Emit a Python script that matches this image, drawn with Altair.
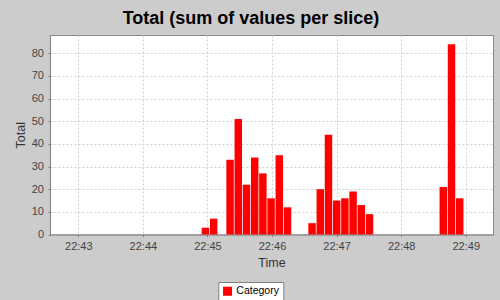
import altair as alt
import pandas as pd

# ---- data ----
first_slice = "22:44:54.7"      # start time of slice 0
slice_seconds = 7.62            # length of one slice
slice_index = [0, 1, 3, 4, 5, 6, 7, 8, 9, 10, 13, 14, 15, 16, 17, 18, 19, 20, 29, 30, 31]
totals = [3, 7, 33, 51, 22, 34, 27, 16, 35, 12, 5, 20, 44, 15, 16, 19, 13, 9, 21, 84, 16]
series = ["Category"] * len(totals)
tick_minutes = [43, 44, 45, 46, 47, 48, 49]
tick_labels = ["22:43", "22:44", "22:45", "22:46", "22:47", "22:48", "22:49"]
y_ticks = [0, 10, 20, 30, 40, 50, 60, 70, 80]

h, m, s = first_slice.split(":")
base_min = int(m) + float(s) / 60.0   # minutes after 22:00
dur_min = slice_seconds / 60.0

df = pd.DataFrame({"idx": slice_index, "total": totals, "series": series})
df["start"] = base_min + df["idx"] * dur_min
df["end"] = df["start"] + dur_min * 0.91

label_expr = "{" + ",".join(f"'{v}':'{t}'" for v, t in zip(tick_minutes, tick_labels)) + "}[datum.value]"

FONT = "Liberation Sans"

chart = (
    alt.Chart(df)
    .mark_bar(color="#ff0000")
    .encode(
        x=alt.X(
            "start:Q",
            title="Time",
            scale=alt.Scale(domain=[42.562, 49.422], nice=False, zero=False),
            axis=alt.Axis(
                values=tick_minutes,
                labelExpr=label_expr,
                grid=True,
                gridDash=[2, 2],
                gridColor="#cfcfcf",
                tickSize=2,
                labelPadding=4,
                titleY=27.5,
                titleBaseline="middle",
            ),
        ),
        x2="end:Q",
        y=alt.Y(
            "total:Q",
            title="Total",
            scale=alt.Scale(domain=[0, 88.1], nice=False),
            axis=alt.Axis(
                values=y_ticks,
                grid=True,
                gridDash=[2, 2],
                gridColor="#cfcfcf",
                tickSize=2,
                labelPadding=4.5,
                titleX=-30,
                titleY=99.75,
                titleBaseline="middle",
            ),
        ),
        y2=alt.datum(0),
        color=alt.Color(
            "series:N",
            scale=alt.Scale(domain=["Category"], range=["#ff0000"]),
            legend=alt.Legend(
                title=None,
                orient="none",
                legendX=168.3,
                legendY=247,
                symbolType="square",
                symbolSize=81,
                symbolStrokeWidth=0,
                symbolOffset=0,
                labelOffset=3.5,
                labelFontSize=10.5,
                labelFont=FONT,
                labelColor="#000000",
                fillColor="#ffffff",
                strokeColor="#808080",
                padding=4,
            ),
        ),
    )
    .properties(
        width=443,
        height=199.5,
        autosize="none",
        padding={"left": 50, "top": 35, "right": 7, "bottom": 65.5},
        background="#cccccc",
        title=alt.TitleParams(
            text="Total (sum of values per slice)",
            font=FONT,
            fontSize=18,
            fontWeight="bold",
            color="#000000",
            anchor="middle",
            offset=7,
            dx=-20.5,
        ),
    )
    .configure_view(fill="#ffffff", stroke="#888888")
    .configure_axis(
        labelFont=FONT,
        labelFontSize=11,
        labelColor="#444444",
        titleFont=FONT,
        titleFontSize=12.5,
        titleFontWeight="normal",
        titleColor="#333333",
        tickColor="#808080",
        domainColor="#808080",
    )
)

chart.save("out.html", embed_options={"renderer": "svg", "actions": False})
